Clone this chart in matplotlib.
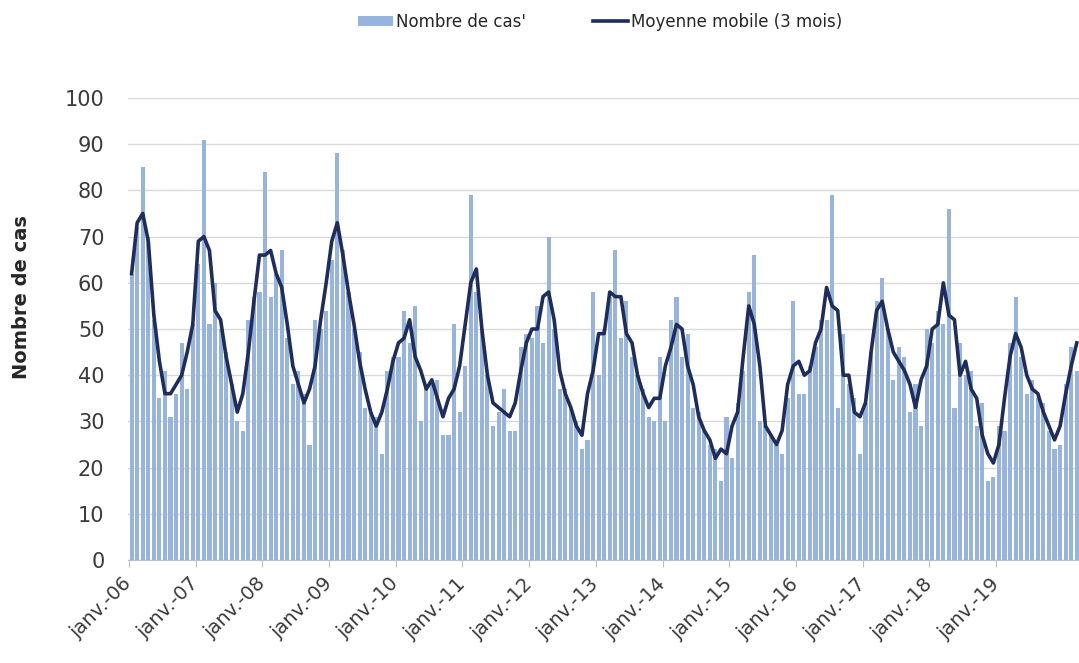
import matplotlib.pyplot as plt
import numpy as np

# monthly case counts, janv. 2006 -> mars 2020
cas = [62, 72, 85, 70, 52, 35, 41, 31, 36, 47, 37, 51,
       64, 91, 51, 60, 50, 45, 38, 30, 28, 52, 57, 58,
       84, 57, 62, 67, 48, 38, 41, 36, 25, 52, 50, 54,
       65, 88, 67, 58, 50, 45, 33, 32, 31, 23, 41, 44,
       44, 54, 47, 55, 30, 38, 39, 39, 27, 27, 51, 32,
       42, 79, 58, 50, 40, 29, 32, 37, 28, 28, 46, 49,
       48, 55, 47, 70, 50, 37, 37, 33, 30, 24, 26, 58,
       40, 50, 57, 67, 48, 56, 44, 40, 37, 31, 30, 44,
       30, 52, 57, 44, 49, 33, 32, 28, 25, 24, 17, 31,
       22, 34, 41, 58, 66, 30, 29, 27, 25, 23, 35, 56,
       36, 36, 42, 46, 52, 52, 79, 33, 49, 38, 35, 23,
       34, 45, 56, 61, 50, 39, 46, 44, 32, 38, 29, 50,
       47, 54, 51, 76, 33, 47, 40, 41, 29, 34, 17, 18,
       29, 28, 47, 57, 44, 36, 39, 35, 34, 28, 24, 25,
       38, 46, 41]

# 3 month moving average line
moyenne = [62, 73, 75, 69, 53, 43, 36, 36, 38, 40, 45, 51,
           69, 70, 67, 54, 52, 44, 38, 32, 36, 45, 56, 66,
           66, 67, 62, 59, 51, 42, 38, 34, 37, 42, 52, 60,
           69, 73, 66, 58, 51, 43, 37, 32, 29, 32, 37, 43,
           47, 48, 52, 44, 41, 37, 39, 35, 31, 35, 37, 42,
           51, 60, 63, 50, 40, 34, 33, 32, 31, 34, 41, 47,
           50, 50, 57, 58, 52, 41, 36, 33, 29, 27, 36, 41,
           49, 49, 58, 57, 57, 49, 47, 40, 36, 33, 35, 35,
           42, 46, 51, 50, 42, 38, 31, 28, 26, 22, 24, 23,
           29, 32, 44, 55, 51, 42, 29, 27, 25, 28, 38, 42,
           43, 40, 41, 47, 50, 59, 55, 54, 40, 40, 32, 31,
           34, 45, 54, 56, 50, 45, 43, 41, 38, 33, 39, 42,
           50, 51, 60, 53, 52, 40, 43, 37, 35, 27, 23, 21,
           25, 35, 44, 49, 46, 40, 37, 36, 32, 29, 26, 29,
           36, 42, 47]

annees = ["janv.-%02d" % a for a in range(6, 20)]

bar_col = "#96B4DD"
line_col = "#1F2D5C"
txt_col = "#3A3A3A"

fig = plt.figure(figsize=(10.79, 6.63), dpi=100)
ax = fig.add_axes([128/1079, 1-560/663, 951/1079, 462/663])

x = np.arange(len(cas))
barres = ax.bar(x, cas, width=0.74, color=bar_col, zorder=2)
ligne, = ax.plot(x, moyenne, color=line_col, lw=2.6, solid_joinstyle="round", zorder=3)

ax.set_ylim(0, 100)
ax.set_xlim(-0.65, 170.4)
ax.set_yticks(range(0, 101, 10))
ax.yaxis.grid(True, color="#D9D9D9", lw=1, zorder=0)
ax.set_axisbelow(True)

ticks = [12*k - 0.5 for k in range(len(annees))]
ax.set_xticks(ticks)
ax.set_xticklabels(annees, rotation=45, ha="right", va="center",
                   rotation_mode="anchor", fontsize=14, color=txt_col)
ax.tick_params(axis="x", length=5, color="#BFBFBF", pad=10)
ax.tick_params(axis="y", length=0, pad=17, labelsize=15, labelcolor=txt_col)

for s in ["top", "right", "left"]:
    ax.spines[s].set_visible(False)
ax.spines["bottom"].set_color("#BFBFBF")

fig.text(22/1079, 1-297/663, "Nombre de cas", rotation=90, ha="center",
         va="center", fontsize=14, fontweight="bold", color="#262626")

fig.legend([barres, ligne], ["Nombre de cas'", "Moyenne mobile (3 mois)"],
           loc="center", bbox_to_anchor=(0.556, 0.967), ncol=2, frameon=False,
           fontsize=12, handlelength=2.1, handleheight=0.6, columnspacing=4.0,
           handletextpad=0.2, labelcolor="#262626")

plt.savefig("out.png", dpi=100)
